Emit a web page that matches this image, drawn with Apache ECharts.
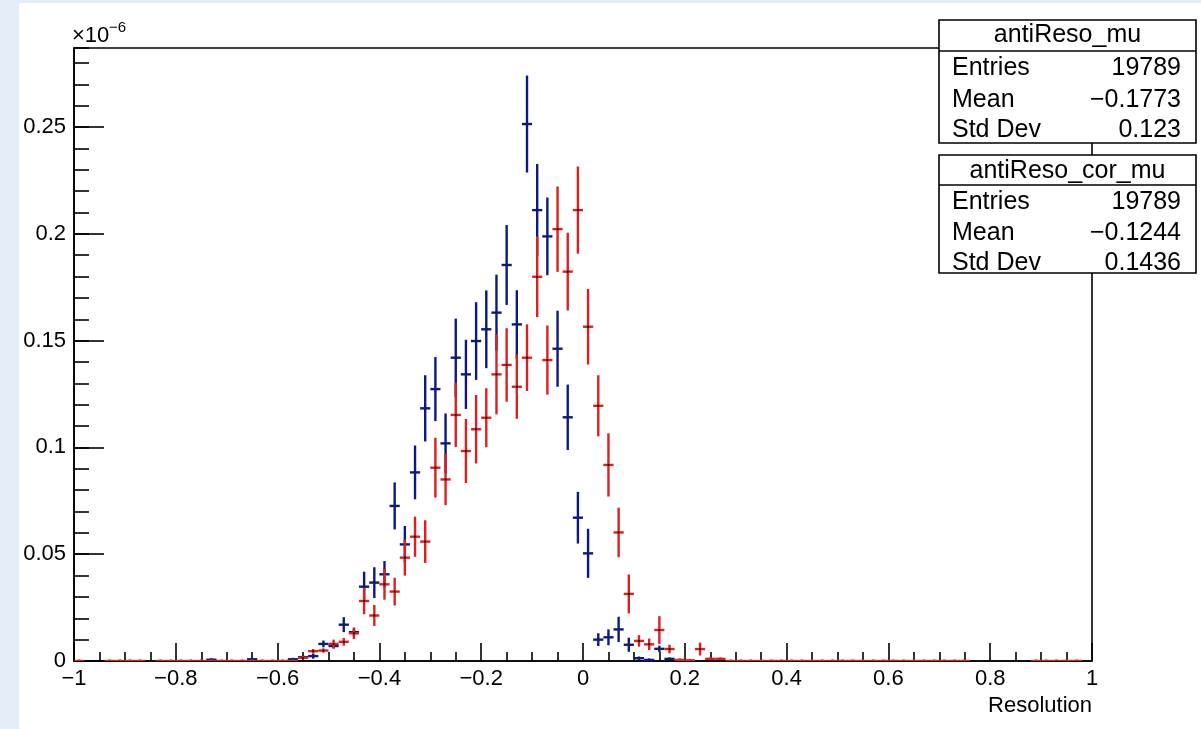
<!DOCTYPE html>
<html><head><meta charset="utf-8">
<script src="https://cdn.jsdelivr.net/npm/echarts@6/dist/echarts.min.js"></script>
<style>html,body{margin:0;padding:0;background:#fff}#c{width:1201px;height:729px}</style>
</head><body><div id="c"></div>
<script>
// Histogram binning: 100 bins from -1 to 1
const X_MIN = -1, X_MAX = 1, N_BINS = 100;
const BIN_W = (X_MAX - X_MIN) / N_BINS;
const binCenters = Array.from({length: N_BINS}, (_, i) => +(X_MIN + BIN_W * (i + 0.5)).toFixed(3));

// antiReso_mu (blue) bin contents (x1e-6) and errors
const blueVals = [
  null,null,null,null,null,null,null,null,null,null,
  null,null,null,0.0006,null,null,null,0.0008,null,null,
  null,0.0008,0.0018,0.0023,0.0080,0.0070,0.0170,0.0135,0.0348,0.0367,
  0.0406,0.0726,0.0546,0.0883,0.1183,0.1273,0.1019,0.1420,0.1342,0.1498,
  0.1553,0.1631,0.1854,0.1576,0.2514,0.2111,0.1988,0.1462,0.1141,0.0671,
  0.0504,0.0100,0.0111,0.0148,0.0076,0.0013,0.0005,0.0057,0.0010,null,
  null,null,null,null,null,null,null,null,null,null,
  null,null,null,null,null,null,null,null,null,null,
  null,null,null,null,null,null,null,null,null,null,
  null,null,null,null,null,null,null,null,null,null
];
const blueErr = [
  null,null,null,null,null,null,null,null,null,null,
  null,null,null,0.0004,null,null,null,0.0004,null,null,
  null,0.0005,0.0008,0.0012,0.0016,0.0012,0.0035,0.0018,0.0070,0.0072,
  0.0062,0.0110,0.0086,0.0126,0.0155,0.0150,0.0140,0.0183,0.0162,0.0182,
  0.0182,0.0178,0.0187,0.0160,0.0227,0.0216,0.0182,0.0178,0.0153,0.0121,
  0.0115,0.0030,0.0037,0.0059,0.0033,0.0008,0.0003,0.0015,0.0006,null,
  null,null,null,null,null,null,null,null,null,null,
  null,null,null,null,null,null,null,null,null,null,
  null,null,null,null,null,null,null,null,null,null,
  null,null,null,null,null,null,null,null,null,null
];
// antiReso_cor_mu (red) bin contents (x1e-6) and errors
const redVals = [
  0,null,null,0,0,0,0,null,0,0,
  0,0,0,0,0,0,0,0,0,0,
  0,0,0.0015,0.0046,0.0049,0.0080,0.0090,0.0130,0.0281,0.0213,
  0.0359,0.0325,0.0484,0.0582,0.0559,0.0905,0.0850,0.1152,0.0983,0.1085,
  0.1139,0.1342,0.1386,0.1284,0.1420,0.1799,0.1409,0.2022,0.1823,0.2111,
  0.1565,0.1195,0.0918,0.0602,0.0314,0.0094,0.0078,0.0145,0.0056,0.0005,
  0.0003,0.0056,0.0010,0.0010,0,0,0,0,0,0,
  0,0,0,0,0,0,0,0,0,0,
  0,0,0,0,0,0,0,0,null,null,
  null,null,null,null,0,0,0,0,0,null
];
const redErr = [
  0,null,null,0,0,0,0,null,0,0,
  0,0,0,0,0,0,0,0,0,0,
  0,0,0.0008,0.0010,0.0010,0.0020,0.0018,0.0027,0.0062,0.0049,
  0.0072,0.0065,0.0084,0.0094,0.0100,0.0140,0.0120,0.0150,0.0150,0.0160,
  0.0138,0.0187,0.0172,0.0150,0.0156,0.0189,0.0162,0.0200,0.0182,0.0204,
  0.0177,0.0143,0.0148,0.0116,0.0091,0.0027,0.0027,0.0065,0.0020,0.0003,
  0.0002,0.0030,0.0005,0.0005,0,0,0,0,0,0,
  0,0,0,0,0,0,0,0,0,0,
  0,0,0,0,0,0,0,0,null,null,
  null,null,null,null,0,0,0,0,0,null
];

const xTicksMajor = 0.2, yTickMajor = 0.05, yTickMinor = 0.01, Y_MAX = 0.287;

const statsBlue = {title: 'antiReso_mu', rows: [['Entries','19789'],['Mean','\u22120.1773'],['Std Dev','0.123']]};
const statsRed  = {title: 'antiReso_cor_mu', rows: [['Entries','19789'],['Mean','\u22120.1244'],['Std Dev','0.1436']]};

const BLUE = '#0c1a7d', RED = '#dc2020';
const FONT = 'Liberation Sans, Arial, Helvetica, sans-serif';

function buildData(vals, errs) {
  const out = [];
  vals.forEach((v, i) => { if (v !== null) out.push([binCenters[i], v, errs[i] || 0]); });
  return out;
}
function makeRender(color, dot) {
  return function (params, api) {
    const x = api.value(0), v = api.value(1), e = api.value(2);
    const pL = api.coord([x - BIN_W / 2, v]), pR = api.coord([x + BIN_W / 2, v]);
    const pT = api.coord([x, v + e]), pB = api.coord([x, v - e]);
    const st = {stroke: color, lineWidth: 2.4};
    const ch = [
      {type: 'line', shape: {x1: pL[0], y1: pL[1], x2: pR[0], y2: pR[1]}, style: st},
      {type: 'line', shape: {x1: pT[0], y1: Math.min(pT[1], pL[1] - 1.5), x2: pB[0], y2: Math.max(pB[1], pL[1])}, style: st}
    ];
    if (dot && v > 0.001) ch.push({type: 'rect', shape: {x: pL[0] + (pR[0]-pL[0])/2 - 0.9, y: pL[1] - 0.9, width: 1.8, height: 1.8}, style: {fill: '#000'}});
    return {type: 'group', children: ch};
  };
}
function fmt(v) { const s = String(+v.toFixed(3)); return s.replace('-', '\u2212'); }

function statsBox(st, x, y, w, h, sepY, titleY, rowYs) {
  const els = [
    {type: 'rect', shape: {x: x, y: y, width: w, height: h}, style: {fill: '#fff', stroke: '#000', lineWidth: 1.6}, z: 100},
    {type: 'line', shape: {x1: x, y1: sepY, x2: x + w, y2: sepY}, style: {stroke: '#000', lineWidth: 1.6}, z: 101},
    {type: 'text', x: x + w / 2, y: titleY, style: {text: st.title, font: '25px ' + FONT, fill: '#000', textAlign: 'center', textVerticalAlign: 'middle'}, z: 101}
  ];
  st.rows.forEach((r, k) => {
    els.push({type: 'text', x: x + 13, y: rowYs[k], style: {text: r[0], font: '25px ' + FONT, fill: '#000', textAlign: 'left', textVerticalAlign: 'middle'}, z: 101});
    els.push({type: 'text', x: x + w - 15, y: rowYs[k], style: {text: r[1], font: '25px ' + FONT, fill: '#000', textAlign: 'right', textVerticalAlign: 'middle'}, z: 101});
  });
  return els;
}

const chart = echarts.init(document.getElementById('c'), null, {renderer: 'canvas'});
const tickLine = {color: '#000', width: 1.6};
chart.setOption({
  backgroundColor: '#e3edf7',
  animation: false,
  grid: {left: 74, right: 109, top: 48, bottom: 68, show: true, borderColor: '#000', borderWidth: 1.6, backgroundColor: 'transparent'},
  xAxis: [{
    type: 'value', min: X_MIN, max: X_MAX, interval: xTicksMajor,
    axisLine: {show: true, onZero: false, lineStyle: tickLine},
    axisTick: {show: true, inside: true, length: 18, lineStyle: tickLine},
    minorTick: {show: true, splitNumber: 4, length: 9, lineStyle: tickLine},
    splitLine: {show: false}, minorSplitLine: {show: false},
    axisLabel: {fontSize: 22, color: '#000', fontFamily: FONT, margin: 7, formatter: fmt}
  }],
  yAxis: [{
    type: 'value', min: 0, max: Y_MAX, interval: yTickMajor,
    axisLine: {show: true, onZero: false, lineStyle: tickLine},
    axisTick: {show: true, inside: true, length: 30, lineStyle: tickLine},
    splitLine: {show: false},
    axisLabel: {fontSize: 22, color: '#000', fontFamily: FONT, margin: 8, showMaxLabel: false, formatter: fmt}
  }, {
    type: 'value', min: 0, max: Y_MAX, interval: yTickMinor, position: 'left',
    axisLine: {show: false, onZero: false},
    axisTick: {show: true, inside: true, length: 15, lineStyle: tickLine},
    splitLine: {show: false},
    axisLabel: {show: false}
  }],
  graphic: [
    {type: 'rect', shape: {x: 19, y: 3, width: 1182, height: 726}, style: {fill: '#fff'}, z: -100},
    {type: 'text', x: 72, y: 47, style: {text: '\u00d710', font: '22px ' + FONT, fill: '#000', textAlign: 'left', textVerticalAlign: 'bottom'}, z: 5},
    {type: 'text', x: 109, y: 35, style: {text: '\u22126', font: '15px ' + FONT, fill: '#000', textAlign: 'left', textVerticalAlign: 'bottom'}, z: 5},
    {type: 'text', x: 1092, y: 706, style: {text: 'Resolution', font: '22px ' + FONT, fill: '#000', textAlign: 'right', textVerticalAlign: 'middle'}, z: 5},
    ...statsBox(statsBlue, 939, 20, 257, 123, 51, 35, [68, 100, 130]),
    ...statsBox(statsRed, 939, 155, 257, 118, 185, 171, [202, 233, 263])
  ],
  series: [
    {type: 'custom', xAxisIndex: 0, yAxisIndex: 0, renderItem: makeRender(BLUE, false), data: buildData(blueVals, blueErr), z: 3, clip: true},
    {type: 'custom', xAxisIndex: 0, yAxisIndex: 0, renderItem: makeRender(RED, true), data: buildData(redVals, redErr), z: 4, clip: true}
  ]
});
</script></body></html>
